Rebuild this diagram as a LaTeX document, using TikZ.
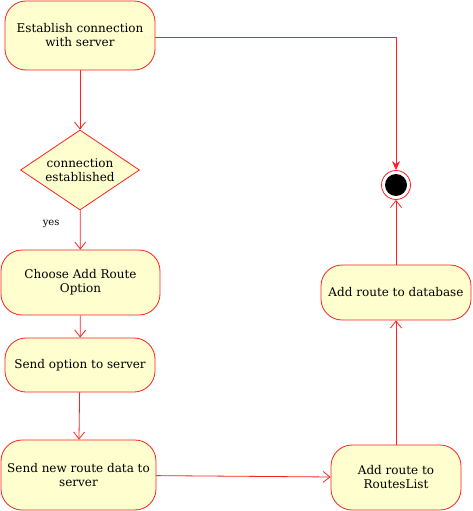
\documentclass[tikz,border=0pt]{standalone}
\usepackage{fontspec}
\setmainfont{DejaVu Serif}
\usetikzlibrary{arrows.meta,shapes.geometric}

\definecolor{actfill}{HTML}{FEFECE}
\definecolor{actline}{HTML}{FF2020}

\tikzset{
  activity/.style={rectangle, rounded corners=21pt, draw=actline, line width=0.8pt, fill=actfill, text centered, align=center, font=\fontsize{12}{14}\selectfont},
  decision/.style={diamond, draw=actline, line width=0.8pt, fill=actfill, align=center, inner sep=-10pt, minimum width=119pt, minimum height=80pt, font=\fontsize{12}{14}\selectfont},
  flow/.style={draw=actline, line width=0.8pt, -{Straight Barb[length=7pt,width=11pt]}},
}

\begin{document}
\begin{tikzpicture}[x=1pt, y=-1pt]
    \useasboundingbox (0,0) rectangle (472,511);

    % left column
    \node (connect) [activity, minimum width=150pt, minimum height=69pt] at (80,35.5) {Establish connection\\with server};
    \node (check) [decision] at (80,170) {connection\\established};
    \node (choose) [activity, minimum width=159pt, minimum height=65pt] at (80.5,282.5) {Choose Add Route\\Option};
    \node (sendopt) [activity, minimum width=150pt, minimum height=54pt] at (80,365) {Send option to server};
    \node (senddata) [activity, minimum width=155pt, minimum height=70pt] at (78.5,475) {Send new route data to\\server};

    % right column
    \node (addlist) [activity, minimum width=130pt, minimum height=65pt] at (396,477.5) {Add route to\\RoutesList};
    \node (adddb) [activity, minimum width=150pt, minimum height=55pt] at (396,292.5) {Add route to database};
    \node (stop) [circle, draw=actline, line width=0.8pt, fill=white, minimum size=29pt, inner sep=0pt] at (396,185) {};
    \node [circle, fill=black, minimum size=22pt, inner sep=0pt] at (stop) {};

    % arrows
    \draw[flow] (connect) -- (check);
    \draw[flow] (check) -- node[pos=0.35, left=17pt, font=\fontsize{10}{12}\selectfont] {yes} (choose);
    \draw[flow] (choose) -- (sendopt);
    \draw[flow] (sendopt) -- (senddata);
    \draw[flow] (senddata) -- (addlist);
    \draw[flow] (addlist) -- (adddb);
    \draw[flow] (adddb) -- (stop);
    \draw[draw=actline, line width=0.8pt, -{Stealth[length=9pt,width=8pt]}] (connect.east |- 0,37) -| (stop);

\end{tikzpicture}
\end{document}
